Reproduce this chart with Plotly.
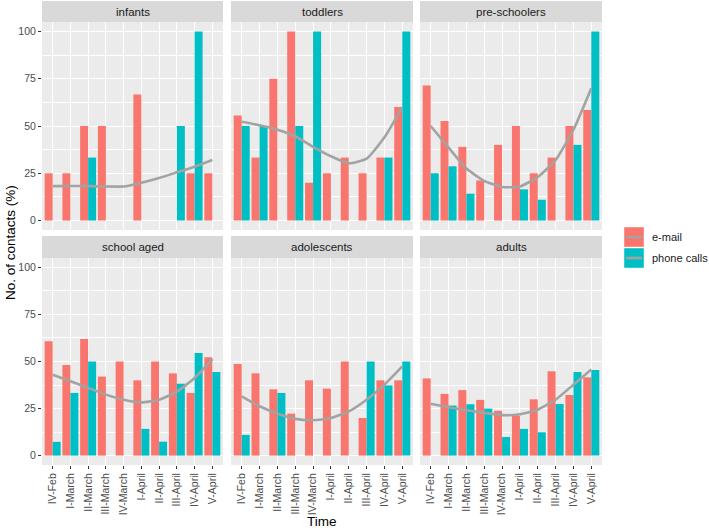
import plotly.graph_objects as go
from plotly.subplots import make_subplots

categories = ["IV-Feb", "I-March", "II-March", "III-March", "IV-March",
              "I-April", "II-April", "III-April", "IV-April", "V-April"]
panel_names = ["infants", "toddlers", "pre-schoolers", "school aged", "adolescents", "adults"]
y_ticks = [0, 25, 50, 75, 100]

infants_email = [25, 25, 50, 50, 0, 66.7, 0, 0, 25, 25]
infants_phone = [0, 0, 33.3, 0, 0, 0, 0, 50, 100, 0]
infants_smooth = [18.2, 18.3, 18.2, 18.0, 18.0, 20.0, 22.5, 25.5, 28.5, 32.0]

toddlers_email = [55.6, 33.3, 75, 100, 20, 25, 33.3, 25, 33.3, 60]
toddlers_phone = [50, 50, 0, 50, 100, 0, 0, 0, 33.3, 100]
toddlers_smooth = [52.2, 50.4, 48.0, 44.6, 39.0, 34.0, 30.3, 32.7, 44.0, 60.0]

preschool_email = [71.4, 52.6, 39, 21.2, 40, 50, 25, 33.3, 50, 58.4]
preschool_phone = [25, 28.7, 14.2, 0, 0, 16.5, 11, 0, 40, 100]
preschool_smooth = [50.0, 38.6, 27.5, 21.0, 17.7, 18.0, 23.0, 32.0, 48.0, 70.0]

school_email = [60.7, 48.1, 62, 42, 50, 40, 50, 43.7, 33.3, 52.2]
school_phone = [7.3, 33.3, 50, 0, 0, 14.2, 7.4, 38.2, 54.5, 44.4]
school_smooth = [43.0, 39.5, 36.0, 32.4, 29.7, 28.3, 29.7, 34.0, 41.2, 51.3]

adolescents_email = [48.7, 43.7, 35.2, 22.3, 40, 35.6, 50, 20, 40, 40]
adolescents_phone = [11, 0, 33.3, 0, 0, 0, 0, 50, 37.3, 50]
adolescents_smooth = [31.5, 26.2, 22.3, 19.5, 18.8, 20.0, 23.5, 29.7, 37.7, 47.4]

adults_email = [41, 32.8, 34.8, 29.6, 23.8, 21.2, 29.9, 44.8, 32.2, 41.6]
adults_phone = [0, 26.6, 27.3, 25, 9.9, 14.2, 12.4, 27.4, 44.4, 45.5]
adults_smooth = [27.5, 25.7, 24.1, 22.7, 21.5, 22.0, 24.4, 29.7, 37.7, 45.7]

panels = [
    (infants_email, infants_phone, infants_smooth),
    (toddlers_email, toddlers_phone, toddlers_smooth),
    (preschool_email, preschool_phone, preschool_smooth),
    (school_email, school_phone, school_smooth),
    (adolescents_email, adolescents_phone, adolescents_smooth),
    (adults_email, adults_phone, adults_smooth),
]

W, H = 709, 531
EMAIL = "#F8766D"
PHONE = "#00BFC4"
SMOOTH = "#A3A3A3"
FONT = "Liberation Sans, Arial, sans-serif"

col_px = [(42, 223), (231, 413), (420, 602)]
row_px = [(22, 230), (258, 465)]
strip_px = [(1, 22), (236, 258)]

fig = make_subplots(rows=2, cols=3)

shapes = []
annotations = []
for i, (em, ph, sm) in enumerate(panels):
    r, c = i // 3, i % 3
    fig.add_trace(go.Bar(x=categories, y=em, marker_color=EMAIL, marker_line_width=0,
                         showlegend=False), row=r + 1, col=c + 1)
    fig.add_trace(go.Bar(x=categories, y=ph, marker_color=PHONE, marker_line_width=0,
                         showlegend=False), row=r + 1, col=c + 1)
    fig.add_trace(go.Scatter(x=categories, y=sm, mode="lines",
                             line=dict(color=SMOOTH, width=2.6, shape="spline", smoothing=0.5),
                             showlegend=False), row=r + 1, col=c + 1)
    sfx = "" if i == 0 else str(i + 1)
    x0, x1 = col_px[c]
    y0, y1 = row_px[r]
    fig.layout["xaxis" + sfx].update(
        domain=[x0 / W, x1 / W], type="category", range=[-0.6, 9.6],
        showgrid=True, gridcolor="white", gridwidth=1.1, zeroline=False,
        showline=False, ticks="outside" if r == 1 else "", ticklen=3,
        tickcolor="#333333", tickwidth=1, showticklabels=(r == 1),
        tickangle=-90, tickfont=dict(size=10.5, color="#4D4D4D", family=FONT),
        categoryorder="array", categoryarray=categories)
    fig.layout["yaxis" + sfx].update(
        domain=[1 - y1 / H, 1 - y0 / H], range=[-5, 105],
        tickvals=y_ticks, showgrid=True, gridcolor="white", gridwidth=1.1,
        minor=dict(tickvals=[12.5, 37.5, 62.5, 87.5], showgrid=True,
                   gridcolor="white", gridwidth=0.5),
        zeroline=False, showline=False,
        ticks="outside" if c == 0 else "", ticklen=3, tickcolor="#333333", tickwidth=1,
        showticklabels=(c == 0), tickfont=dict(size=10.5, color="#4D4D4D", family=FONT))
    # strip
    sy0, sy1 = strip_px[r]
    shapes.append(dict(type="rect", xref="paper", yref="paper",
                       x0=x0 / W, x1=x1 / W, y0=1 - sy1 / H, y1=1 - sy0 / H,
                       fillcolor="#D9D9D9", line=dict(width=0), layer="below"))
    annotations.append(dict(text=panel_names[i], xref="paper", yref="paper",
                            x=(x0 + x1) / 2 / W, y=1 - (sy0 + sy1) / 2 / H,
                            showarrow=False, xanchor="center", yanchor="middle",
                            font=dict(size=11.5, color="#1A1A1A", family=FONT)))

# legend (custom)
legend_items = [("e-mail", EMAIL, 227, 247), ("phone calls", PHONE, 248, 268)]
for label, color, ky0, ky1 in legend_items:
    shapes.append(dict(type="rect", xref="paper", yref="paper",
                       x0=624 / W, x1=644 / W, y0=1 - ky1 / H, y1=1 - ky0 / H,
                       fillcolor=color, line=dict(width=0.5, color="#F2F2F2")))
    ym = (ky0 + ky1) / 2
    shapes.append(dict(type="line", xref="paper", yref="paper",
                       x0=626 / W, x1=642 / W, y0=1 - ym / H, y1=1 - ym / H,
                       line=dict(color=SMOOTH, width=2.6)))
    annotations.append(dict(text=label, xref="paper", yref="paper",
                            x=650 / W, y=1 - ym / H, showarrow=False,
                            xanchor="left", yanchor="middle",
                            font=dict(size=11, color="#1A1A1A", family=FONT)))

annotations.append(dict(text="No. of contacts (%)", xref="paper", yref="paper",
                        x=10 / W, y=1 - 243 / H, textangle=-90, showarrow=False,
                        xanchor="center", yanchor="middle",
                        font=dict(size=13.5, color="#000000", family=FONT)))
annotations.append(dict(text="Time", xref="paper", yref="paper",
                        x=322 / W, y=1 - 521 / H, showarrow=False,
                        xanchor="center", yanchor="middle",
                        font=dict(size=13.5, color="#000000", family=FONT)))

fig.update_layout(
    width=W, height=H, margin=dict(l=0, r=0, t=0, b=0),
    paper_bgcolor="white", plot_bgcolor="#EBEBEB",
    barmode="group", bargap=0.1, bargroupgap=0,
    showlegend=False, shapes=shapes, annotations=annotations,
    font=dict(family=FONT),
)

fig.write_html("out.html", config={"displayModeBar": False},
               post_script="document.body.style.margin='0px';")
